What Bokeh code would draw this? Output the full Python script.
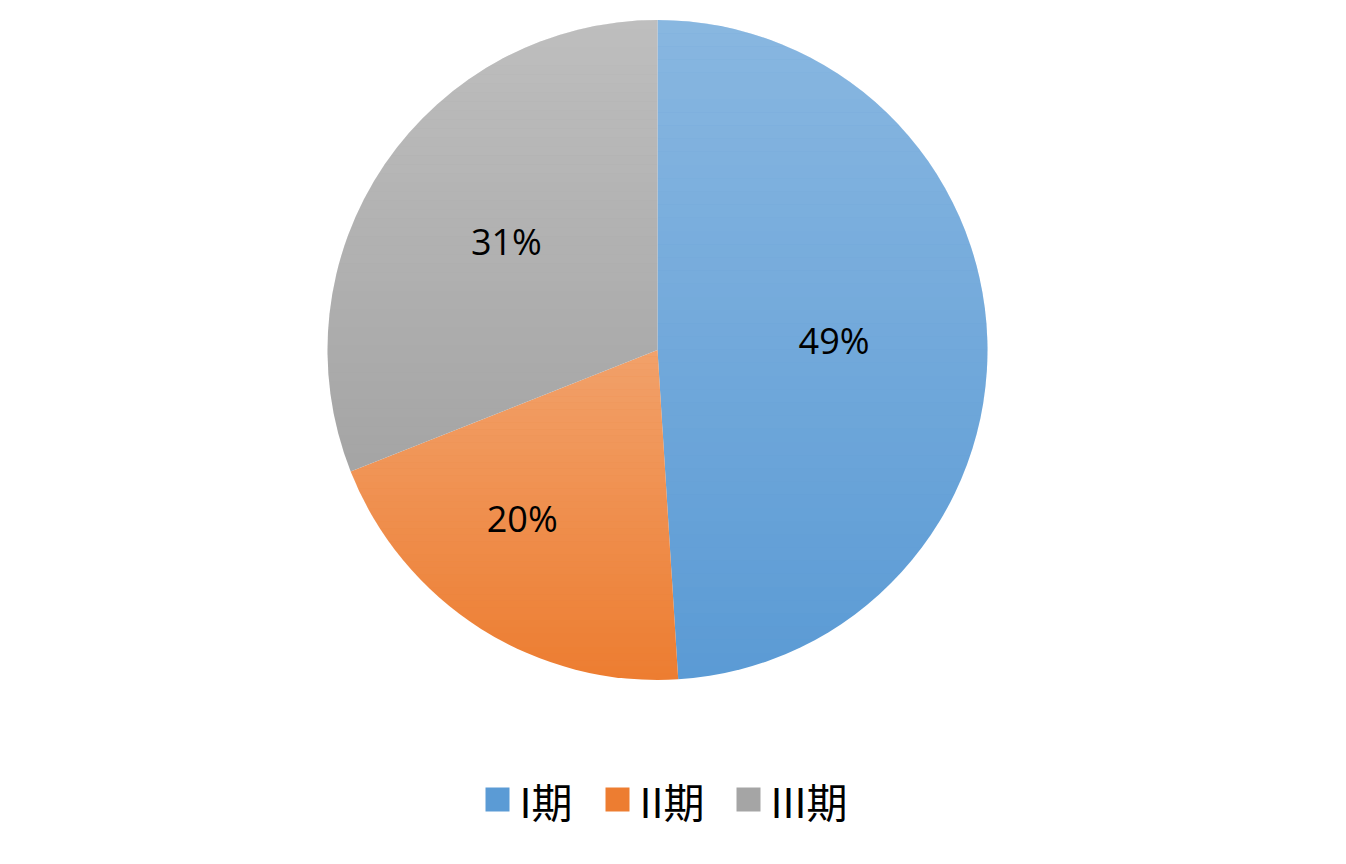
import numpy as np
from bokeh.plotting import figure
from bokeh.models import Range1d
from bokeh.core.properties import value
from bokeh.embed import file_html
from bokeh.resources import INLINE

# ---- data ----
categories = ["I期", "II期", "III期"]
shares = [49, 20, 31]            # percent
labels = ["49%", "20%", "31%"]
colors = ["#5B9BD5", "#ED7D31", "#A5A5A5"]

# ---- layout (pixel-mapped data space: y = 864 - screen_y) ----
W, H = 1330, 848
CX, CY, R = 657, 864 - 349.5, 330
LABEL_OFFSETS = [(0.535, 0.03), (-0.41, -0.51), (-0.458, 0.33)]  # in units of R
LEGEND_SQ_X = [497, 617, 748]
LEGEND_Y = 864 - 799
TOP_ALPHA = 0.28

p = figure(width=W, height=H, output_backend="svg", toolbar_location=None,
           x_range=Range1d(0, W), y_range=Range1d(864 - H, 864),
           min_border=0, outline_line_color=None)
p.axis.visible = False
p.grid.visible = False
p.background_fill_color = "white"
p.border_fill_color = "white"

vals = np.array(shares, dtype=float)
frac = vals / vals.sum()
cum = np.concatenate([[0], np.cumsum(frac)])
starts = np.pi / 2 - 2 * np.pi * cum[:-1]
ends = np.pi / 2 - 2 * np.pi * cum[1:]

p.wedge(x=CX, y=CY, radius=R, start_angle=starts, end_angle=ends,
        direction="clock", fill_color=colors, line_color=None)


def clip_half(poly, yval, keep_below):
    out = []
    n = len(poly)
    for i in range(n):
        a = poly[i]
        b = poly[(i + 1) % n]
        ina = a[1] <= yval if keep_below else a[1] >= yval
        inb = b[1] <= yval if keep_below else b[1] >= yval
        if ina:
            out.append(a)
        if ina != inb:
            t = (yval - a[1]) / (b[1] - a[1])
            out.append((a[0] + t * (b[0] - a[0]), yval))
    return out


# per-slice vertical light gradient (white overlay, fading to base colour at bottom)
gx, gy, ga = [], [], []
for s, e in zip(starts, ends):
    th = np.linspace(s, e, 200)
    poly = [(CX, CY)] + [(CX + R * np.cos(t), CY + R * np.sin(t)) for t in th]
    ys = [pt[1] for pt in poly]
    ytop, ybot = max(ys), min(ys)
    nb = 50
    edges = np.linspace(ytop, ybot, nb + 1)
    for i in range(nb):
        band = clip_half(poly, edges[i], True)
        band = clip_half(band, edges[i + 1], False) if band else []
        if len(band) < 3:
            continue
        tmid = (i + 0.5) / nb
        gx.append([pt[0] for pt in band])
        gy.append([pt[1] for pt in band])
        ga.append(TOP_ALPHA * (1 - tmid))

p.patches(xs=gx, ys=gy, fill_color="white", fill_alpha=ga, line_color=None)

# data labels
lx = [CX + dx * R for dx, dy in LABEL_OFFSETS]
ly = [CY + dy * R for dx, dy in LABEL_OFFSETS]
p.text(x=lx, y=ly, text=labels, text_align="center", text_baseline="middle",
       text_font=value("Open Sans"), text_font_size="36px", text_color="#000000")

# legend
p.rect(x=LEGEND_SQ_X, y=[LEGEND_Y] * 3, width=24, height=24,
       fill_color=colors, line_color=None)
p.text(x=[x + 22 for x in LEGEND_SQ_X], y=[LEGEND_Y] * 3, text=categories,
       text_align="left", text_baseline="middle",
       text_font=value("Noto Sans CJK SC"), text_font_size="41px",
       text_color="#000000")

open("out.html", "w").write(file_html(p, INLINE))
